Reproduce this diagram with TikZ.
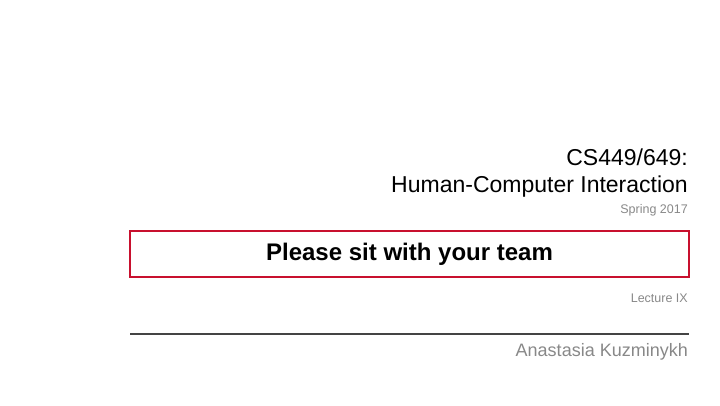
\documentclass[tikz,border=0pt]{standalone}
\usepackage{fontspec}
\setmainfont{Liberation Sans}
\definecolor{boxred}{HTML}{C8102E}
\definecolor{txtgray}{HTML}{888888}
\definecolor{linegray}{HTML}{444444}
\begin{document}
\begin{tikzpicture}[x=1pt,y=-1pt,
  rt/.style={anchor=east,inner sep=0pt}]
\useasboundingbox (0,0) rectangle (720,405);
\node[rt,font=\fontsize{23}{28}\selectfont] (t1) at (688,157) {CS449/649:};
\node[rt,font=\fontsize{23}{28}\selectfont] (t2) at (688,187) {Human-Computer Interaction};
\node[rt,font=\fontsize{12.5}{15}\selectfont,text=txtgray] (sp) at (688,210) {Spring 2017};
\node[draw=boxred,line width=1.3pt,minimum width=559pt,minimum height=46pt,inner sep=0pt,font=\bfseries\fontsize{24}{28}\selectfont] (box) at (409.5,254) {Please sit with your team};
\node[rt,font=\fontsize{12.5}{15}\selectfont,text=txtgray] (lec) at (688,298) {Lecture IX};
\coordinate (l1) at (130,334);
\coordinate (l2) at (689,334);
\draw[linegray,line width=2.2pt] (l1) -- (l2);
\node[rt,font=\fontsize{18}{21}\selectfont,text=txtgray] (au) at (688,352) {Anastasia Kuzminykh};
\end{tikzpicture}
\end{document}
